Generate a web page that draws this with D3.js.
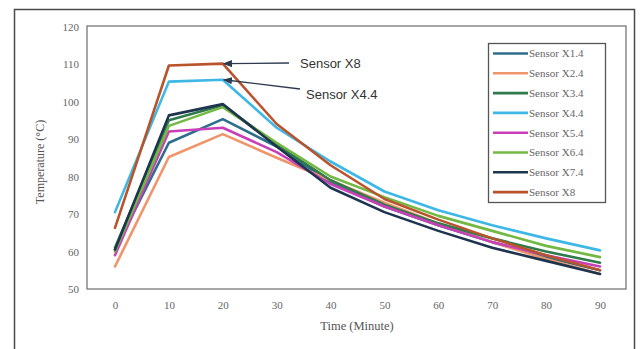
<!DOCTYPE html>
<html>
<head>
<meta charset="utf-8">
<script src="https://cdn.jsdelivr.net/npm/d3@7/dist/d3.min.js"></script>
<style>
  html, body { margin: 0; padding: 0; background: #fff; }
  svg { display: block; }
</style>
</head>
<body>
<svg id="chart" width="640" height="349"></svg>
<script>
// Sampling times (minutes)
const times = [0, 10, 20, 30, 40, 50, 60, 70, 80, 90];

// Sensor names, in legend order
const sensorNames = ["Sensor X1.4", "Sensor X2.4", "Sensor X3.4", "Sensor X4.4",
                     "Sensor X5.4", "Sensor X6.4", "Sensor X7.4", "Sensor X8"];

// Temperatures (°C) per sensor
const x14 = [60.5, 89.0, 95.3, 88.0, 78.5, 72.0, 67.0, 62.5, 58.5, 55.0];
const x24 = [56.0, 85.2, 91.3, 85.0, 79.0, 73.0, 67.5, 62.5, 58.0, 54.0];
const x34 = [61.0, 95.0, 99.0, 88.5, 79.0, 72.5, 67.5, 63.5, 60.0, 57.0];
const x44 = [70.5, 105.3, 105.8, 93.0, 84.0, 76.0, 71.0, 67.0, 63.5, 60.3];
const x54 = [59.0, 92.0, 93.0, 86.5, 78.0, 72.0, 67.0, 62.5, 59.0, 56.0];
const x64 = [60.0, 93.5, 98.5, 89.0, 80.0, 74.5, 69.5, 65.5, 61.5, 58.5];
const x74 = [60.5, 96.3, 99.3, 88.0, 77.0, 70.5, 65.5, 61.0, 57.5, 54.0];
const x8  = [66.3, 109.6, 110.1, 94.0, 83.0, 74.0, 68.5, 63.5, 59.0, 55.0];

const seriesValues = [x14, x24, x34, x44, x54, x64, x74, x8];
const seriesColors = ["#2d6e8c", "#f0956a", "#2f7a4c", "#3db8e6",
                      "#c83fb8", "#74b844", "#1e3550", "#b9532c"];

// Axis ticks
const xTicks = [0, 10, 20, 30, 40, 50, 60, 70, 80, 90];
const yTicks = [50, 60, 70, 80, 90, 100, 110, 120];

const svg = d3.select("#chart");

// Outer frame
svg.append("rect")
  .attr("x", 14.5).attr("y", 9.5).attr("width", 620).attr("height", 350)
  .attr("fill", "none").attr("stroke", "#4a4a4a").attr("stroke-width", 1.5);

const plot = { left: 87, top: 26, right: 626, bottom: 289 };

const x = d3.scaleLinear().domain([0, 90]).range([115, 600]);
const y = d3.scaleLinear().domain([50, 120]).range([plot.bottom, 26.5]);

// Plot area border
svg.append("rect")
  .attr("x", plot.left).attr("y", plot.top)
  .attr("width", plot.right - plot.left).attr("height", plot.bottom - plot.top)
  .attr("fill", "#fff").attr("stroke", "#777").attr("stroke-width", 1.3);

const tickFont = "'Liberation Serif', 'DejaVu Serif', serif";

// Y axis labels
const yAxis = d3.axisLeft(y).tickValues(yTicks).tickSize(0).tickPadding(0)
  .tickFormat(d3.format("d"));
svg.append("g")
  .attr("transform", `translate(${plot.left - 8},0)`)
  .call(yAxis)
  .call(g => g.select(".domain").remove())
  .selectAll("text")
  .attr("font-family", tickFont).attr("font-size", 11).attr("fill", "#666");

// X axis labels
const xAxis = d3.axisBottom(x).tickValues(xTicks).tickSize(0).tickPadding(0)
  .tickFormat(d3.format("d"));
svg.append("g")
  .attr("transform", `translate(0,${plot.bottom + 12})`)
  .call(xAxis)
  .call(g => g.select(".domain").remove())
  .selectAll("text")
  .attr("font-family", tickFont).attr("font-size", 11).attr("fill", "#666");

// Axis titles
svg.append("text")
  .attr("x", 357).attr("y", 330)
  .attr("text-anchor", "middle")
  .attr("font-family", tickFont).attr("font-size", 12.5).attr("fill", "#555")
  .text("Time (Minute)");

svg.append("text")
  .attr("transform", "translate(44,162) rotate(-90)")
  .attr("text-anchor", "middle")
  .attr("font-family", tickFont).attr("font-size", 12).attr("fill", "#555")
  .text("Temperature (°C)");

// Sensor lines
const line = d3.line()
  .x((d, i) => x(times[i]))
  .y(d => y(d))
  .curve(d3.curveLinear);

const lineGroup = svg.append("g");
seriesValues.forEach((vals, k) => {
  lineGroup.append("path")
    .datum(vals)
    .attr("d", line)
    .attr("fill", "none")
    .attr("stroke", seriesColors[k])
    .attr("stroke-width", 2.6)
    .attr("stroke-linejoin", "round")
    .attr("stroke-linecap", "round");
});

// Legend
const legend = svg.append("g");
legend.append("rect")
  .attr("x", 488.5).attr("y", 43.5).attr("width", 117).attr("height", 159)
  .attr("fill", "#fff").attr("stroke", "#555").attr("stroke-width", 1.3);
sensorNames.forEach((name, k) => {
  const ly = 53.5 + k * 19.8;
  legend.append("line")
    .attr("x1", 493).attr("x2", 528).attr("y1", ly).attr("y2", ly)
    .attr("stroke", seriesColors[k]).attr("stroke-width", 2.6);
  legend.append("text")
    .attr("x", 529).attr("y", ly + 3.8)
    .attr("font-family", tickFont).attr("font-size", 11).attr("fill", "#666")
    .text(name);
});

// Callouts for the two hottest sensors
const defs = svg.append("defs");
defs.append("marker")
  .attr("id", "arrowHead")
  .attr("viewBox", "0 0 10 10")
  .attr("refX", 9).attr("refY", 5)
  .attr("markerWidth", 7).attr("markerHeight", 7)
  .attr("orient", "auto")
  .append("path").attr("d", "M0,1 L10,5 L0,9 Z").attr("fill", "#2e3b4e");

const callouts = [
  { label: "Sensor X8",   series: 7, tx: 300, ty: 68, fromX: 289, fromY: 63 },
  { label: "Sensor X4.4", series: 3, tx: 306, ty: 99, fromX: 300, fromY: 89 }
];
callouts.forEach(c => {
  svg.append("line")
    .attr("x1", c.fromX).attr("y1", c.fromY)
    .attr("x2", x(20) + 1).attr("y2", y(seriesValues[c.series][2]))
    .attr("stroke", "#2e3b4e").attr("stroke-width", 1.3)
    .attr("marker-end", "url(#arrowHead)");
  svg.append("text")
    .attr("x", c.tx).attr("y", c.ty)
    .attr("font-family", "Arial, 'Liberation Sans', sans-serif")
    .attr("font-size", 13).attr("fill", "#333")
    .text(c.label);
});
</script>
</body>
</html>
